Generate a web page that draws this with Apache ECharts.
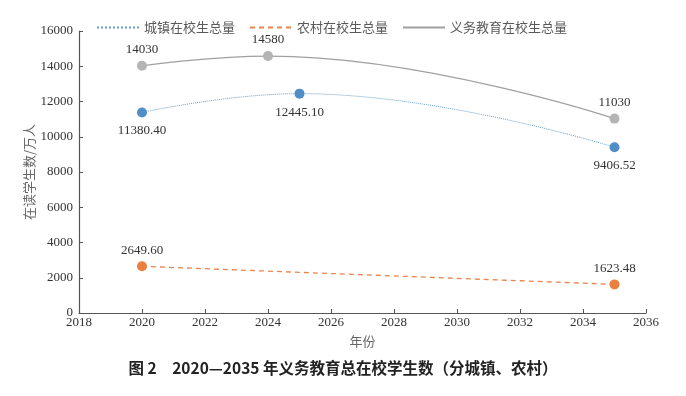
<!DOCTYPE html>
<html>
<head>
<meta charset="utf-8">
<script src="https://cdn.jsdelivr.net/npm/echarts@6/dist/echarts.min.js"></script>
<style>
    html, body { margin: 0; padding: 0; background: #fff; }
    #chart { width: 686px; height: 396px; }
</style>
</head>
<body>
<div id="chart"></div>
<script>
/* ===========================
   Data
=========================== */

const seriesNames = ["城镇在校生总量", "农村在校生总量", "义务教育在校生总量"];

const urbanYears = [2020, 2025, 2035];
const urbanValues = [11380.40, 12445.10, 9406.52];

const ruralYears = [2020, 2035];
const ruralValues = [2649.60, 1623.48];

const totalYears = [2020, 2024, 2035];
const totalValues = [14030, 14580, 11030];

const xMin = 2018, xMax = 2036, xStep = 2;
const yMin = 0, yMax = 16000, yStep = 2000;

const serif = "'Liberation Serif', 'DejaVu Serif', serif";
const cjk = "'Noto Sans CJK SC', sans-serif";

function points(xs, ys, digits) {
    return xs.map((x, i) => [x, ys[i], ys[i].toFixed(digits)]);
}

/* ===========================
   Chart
=========================== */

const chart = echarts.init(document.getElementById("chart"));

const labelBase = {
    show: true,
    fontFamily: serif,
    fontSize: 13,
    color: "#333",
    formatter: p => p.data[2]
};

const hidden = { opacity: 0 };

chart.setOption({

    animation: false,

    legend: {
        top: 16,
        left: 91,
        itemWidth: 42,
        itemHeight: 10,
        itemGap: 14,
        textStyle: { fontFamily: cjk, fontSize: 13, color: "#595959" },
        data: [
            { name: seriesNames[0], itemStyle: hidden },
            { name: seriesNames[1], itemStyle: hidden },
            { name: seriesNames[2], itemStyle: hidden }
        ]
    },

    grid: {
        left: 79,
        right: 40,
        top: 31,
        bottom: 83
    },

    xAxis: {
        type: "value",
        min: xMin,
        max: xMax,
        interval: xStep,
        name: "年份",
        nameLocation: "middle",
        nameGap: 22,
        nameTextStyle: { fontFamily: cjk, fontSize: 13, color: "#666" },
        axisLine: { lineStyle: { color: "#555", width: 1.2 } },
        axisTick: { inside: true, length: 4, lineStyle: { color: "#555" } },
        axisLabel: { fontFamily: serif, fontSize: 13, color: "#333", margin: 3, formatter: v => String(v) },
        splitLine: { show: false }
    },

    yAxis: {
        type: "value",
        min: yMin,
        max: yMax,
        interval: yStep,
        name: "在读学生数/万人",
        nameLocation: "middle",
        nameGap: 43,
        nameMoveOverlap: false,
        nameTextStyle: { fontFamily: cjk, fontSize: 13, color: "#666" },
        axisLine: { show: true, lineStyle: { color: "#555", width: 1.2 } },
        axisTick: { show: true, inside: true, length: 4, lineStyle: { color: "#555" } },
        axisLabel: { fontFamily: serif, fontSize: 13, color: "#333", margin: 6, formatter: v => String(v) },
        splitLine: { show: false }
    },

    series: [
        {
            name: seriesNames[0],
            type: "line",
            smooth: 0.45,
            symbol: "circle",
            symbolSize: 10,
            itemStyle: { color: "#4f8ec6" },
            lineStyle: { color: "#6a9fc9", width: 1, type: "dotted" },
            label: Object.assign({}, labelBase, { position: "bottom", distance: 7 }),
            data: points(urbanYears, urbanValues, 2)
        },
        {
            name: seriesNames[1],
            type: "line",
            symbol: "circle",
            symbolSize: 10,
            itemStyle: { color: "#e9803f" },
            lineStyle: { color: "#e9844a", width: 1.3, type: [5, 4] },
            label: Object.assign({}, labelBase, { position: "top", distance: 4 }),
            data: points(ruralYears, ruralValues, 2)
        },
        {
            name: seriesNames[2],
            type: "line",
            smooth: 0.45,
            symbol: "circle",
            symbolSize: 10,
            itemStyle: { color: "#b4b4b4" },
            lineStyle: { color: "#a0a0a0", width: 1.2 },
            label: Object.assign({}, labelBase, { position: "top", distance: 5 }),
            data: points(totalYears, totalValues, 0)
        }
    ],

    graphic: [{
        type: "text",
        left: "center",
        top: 360,
        style: {
            text: "图 2　2020—2035 年义务教育总在校学生数（分城镇、农村）",
            font: "bold 15.5px 'Noto Sans CJK SC', sans-serif",
            fill: "#222"
        }
    }]

});
</script>
</body>
</html>
